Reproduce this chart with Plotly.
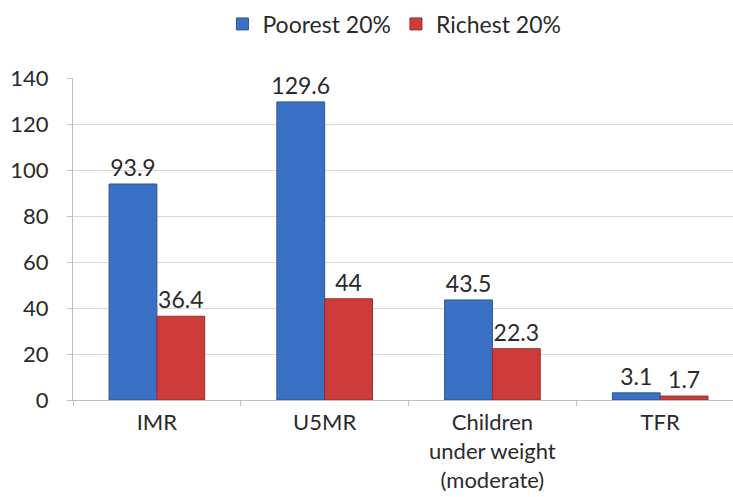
import plotly.graph_objects as go

categories = ["IMR", "U5MR", "Children<br>under weight<br>(moderate)", "TFR"]
poorest = [93.9, 129.6, 43.5, 3.1]
richest = [36.4, 44, 22.3, 1.7]
y_ticks = [0, 20, 40, 60, 80, 100, 120, 140]

font_family = "Lato, Open Sans, sans-serif"
text_color = "#2a2a2a"

fig = go.Figure()
fig.add_trace(go.Bar(
    x=categories, y=poorest, name="Poorest 20%",
    marker=dict(color="#3b71c4", line=dict(color="#2b5597", width=1)),
    text=[str(v) for v in poorest], textposition="outside", constraintext="none",
    textfont=dict(size=23, color=text_color, family=font_family),
    cliponaxis=False,
))
fig.add_trace(go.Bar(
    x=categories, y=richest, name="Richest 20%",
    marker=dict(color="#cd3b3b", line=dict(color="#9c2a2a", width=1)),
    text=[str(v) for v in richest], textposition="outside", constraintext="none",
    textfont=dict(size=23, color=text_color, family=font_family),
    cliponaxis=False,
))

fig.update_layout(
    width=733, height=497,
    margin=dict(l=73, r=0, t=78, b=97),
    paper_bgcolor="white", plot_bgcolor="white",
    barmode="group", bargap=0.43, bargroupgap=0,
    font=dict(family=font_family, size=22, color=text_color),
    legend=dict(orientation="h", x=0.487, xanchor="center", y=0.995, yanchor="top",
                yref="container", font=dict(size=23, color=text_color),
                itemwidth=30, traceorder="normal"),
    showlegend=True,
)
fig.update_xaxes(
    range=[-0.5, 3.434], showline=True, linecolor="#bfbfbf", linewidth=1,
    ticks="outside", tickson="boundaries", ticklen=5, tickcolor="#bfbfbf",
    ticklabelstandoff=3,
    showgrid=False, tickfont=dict(size=22, color=text_color), automargin=False,
)
fig.update_yaxes(
    range=[0, 140], tickvals=y_ticks, showline=True, linecolor="#bfbfbf", linewidth=1,
    ticks="outside", ticklen=5, tickcolor="#bfbfbf", ticklabelstandoff=14,
    showgrid=True, gridcolor="#d9d9d9", gridwidth=1, zeroline=False,
    tickfont=dict(size=22, color=text_color), automargin=False,
)

fig.write_html("out.html")
